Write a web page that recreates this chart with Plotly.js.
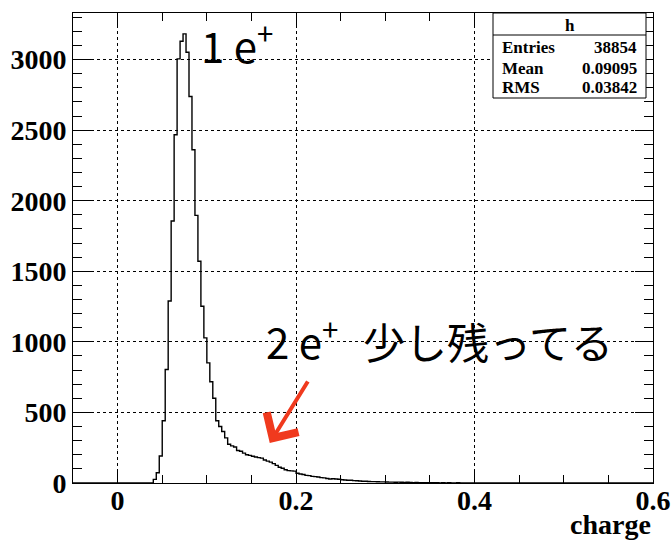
<!DOCTYPE html>
<html>
<head>
<meta charset="utf-8">
<script src="https://cdn.plot.ly/plotly-3.0.1.min.js"></script>
<style>html,body{margin:0;padding:0;background:#fff;}#chart{width:672px;height:544px;}</style>
</head>
<body>
<div id="chart"></div>
<script>
// Histogram definition (ROOT-style: range -0.05..0.6, bin width 1/300)
const hMin = -0.05;
const hMax = 0.6;
const binWidth = 1 / 300;
const firstFilledEdge = 0.04;   // low edge of first non-empty bin
// bin contents, starting at charge = 0.04
const counts = [
  26, 73, 191, 441, 804, 1290, 1856,
  2467, 3005, 3130, 3182, 3052, 2738, 2361,
  1896, 1571, 1252, 1028, 851, 717,
  600, 441, 400, 365, 320, 275, 263, 255, 230,
  225, 212, 200, 196, 190, 184, 180, 176, 163, 155,
  148, 137, 125, 112, 104, 94, 88, 86, 84, 69,
  64, 60, 54, 52, 47, 45, 42, 38, 36, 32, 28, 30, 28, 27, 23,
  21, 20, 19, 17, 16, 14, 12, 12, 11, 10, 10, 9, 8, 8, 7,
  6, 6, 5, 6, 5, 4, 5, 4, 3, 4, 3, 3, 2, 3, 2, 2, 3, 1, 2, 1, 2,
  1, 1, 2, 1, 0, 1, 1, 0, 1, 0, 1, 0, 1, 0, 0, 1, 0, 0, 1, 0, 0, 1, 0, 1
];
const xTickVals = [0, 0.2, 0.4, 0.6];
const xTickText = ["0", "0.2", "0.4", "0.6"];
const statNames = ["Entries", "Mean", "RMS"];
const statValues = ["38854", "0.09095", "0.03842"];
const histName = "h";
const xTitle = "charge";
const label1 = "1 e<sup>+</sup>";
const label2 = "2 e<sup>+</sup>";
const label2jp = "少し残ってる";
const arrowTip = {x: 0.1705, y: 283};

// build step outline over full histogram range
const nBins = Math.round((hMax - hMin) / binWidth);
const offset = Math.round((firstFilledEdge - hMin) / binWidth);
const xs = [], ys = [];
for (let i = 0; i < nBins; i++) {
  const k = i - offset;
  const v = (k >= 0 && k < counts.length) ? counts[k] : 0;
  xs.push(hMin + i * binWidth);
  ys.push(v);
}
xs.push(hMax); ys.push(ys[ys.length - 1]);

const trace = {
  x: xs, y: ys, type: 'scatter', mode: 'lines',
  line: {shape: 'hv', color: '#000', width: 1.4},
  hoverinfo: 'skip', cliponaxis: true
};

const serif = {family: 'Liberation Serif, Times New Roman, serif', size: 28, color: '#000', weight: 'bold'};
const boxFont = {family: 'Liberation Serif, Times New Roman, serif', size: 17, color: '#000', weight: 'bold'};
const bigFont = {family: 'Noto Sans CJK JP, sans-serif', size: 42, color: '#000'};

// plot area in pixels for paper-coordinate helpers
const L = 73, R = 653, T = 13, B = 483;
const px = v => (v - L) / (R - L);
const py = v => (B - v) / (B - T);

const annotations = [
  {xref: 'paper', yref: 'paper', x: 1, y: py(524), xanchor: 'right', yanchor: 'middle',
   text: xTitle, showarrow: false, font: serif},
  {xref: 'paper', yref: 'paper', x: px(569.5), y: py(25), xanchor: 'center', yanchor: 'middle',
   text: histName, showarrow: false, font: boxFont},
  {xref: 'paper', yref: 'paper', x: px(199), y: py(43), xanchor: 'left', yanchor: 'middle',
   text: label1, showarrow: false, font: bigFont},
  {xref: 'paper', yref: 'paper', x: px(264), y: py(339), xanchor: 'left', yanchor: 'middle',
   text: label2, showarrow: false, font: bigFont},
  {xref: 'paper', yref: 'paper', x: px(361), y: py(340), xanchor: 'left', yanchor: 'middle',
   text: label2jp, showarrow: false, font: bigFont},
  {xref: 'x', yref: 'y', x: arrowTip.x, y: arrowTip.y, ax: 39, ay: -63, text: '',
   showarrow: true, arrowhead: 4, arrowsize: 1.8, arrowwidth: 4, arrowcolor: '#f03a1e'}
];
const rowY = [47, 68, 88];
statNames.forEach((n, i) => {
  annotations.push({xref: 'paper', yref: 'paper', x: px(500), y: py(rowY[i]), xanchor: 'left', yanchor: 'middle',
    text: n, showarrow: false, font: boxFont});
  annotations.push({xref: 'paper', yref: 'paper', x: px(639), y: py(rowY[i]), xanchor: 'right', yanchor: 'middle',
    text: statValues[i], showarrow: false, font: boxFont});
});

const layout = {
  width: 672, height: 544,
  margin: {l: L, r: 672 - R, t: T, b: 544 - B},
  paper_bgcolor: '#fff', plot_bgcolor: '#fff',
  showlegend: false,
  xaxis: {
    range: [hMin, hMax], tickmode: 'array', tickvals: xTickVals, ticktext: xTickText,
    ticks: 'inside', ticklen: 14, tickwidth: 1, tickcolor: '#000',
    showline: true, linecolor: '#000', linewidth: 1, mirror: 'allticks',
    showgrid: true, gridcolor: '#000', griddash: 'dot', gridwidth: 1, zeroline: false,
    tickfont: serif, ticklabelstandoff: -8,
    minor: {dtick: 0.05, tick0: 0, ticks: 'inside', ticklen: 8, tickcolor: '#000', showgrid: false}
  },
  yaxis: {
    range: [0, 3330], tick0: 0, dtick: 500, ticks: 'inside', ticklen: 18, tickwidth: 1, tickcolor: '#000',
    showline: true, linecolor: '#000', linewidth: 1, mirror: 'allticks',
    showgrid: true, gridcolor: '#000', griddash: 'dot', gridwidth: 1, zeroline: false,
    tickfont: serif,
    minor: {dtick: 100, tick0: 0, ticks: 'inside', ticklen: 9, tickcolor: '#000', showgrid: false}
  },
  shapes: [
    {type: 'rect', xref: 'paper', yref: 'paper', x0: px(493), x1: px(646), y0: py(98), y1: py(13),
     fillcolor: '#fff', line: {color: '#000', width: 1}, layer: 'above'},
    {type: 'line', xref: 'paper', yref: 'paper', x0: px(493), x1: px(646), y0: py(35), y1: py(35),
     line: {color: '#000', width: 1}, layer: 'above'}
  ],
  annotations: annotations
};

Plotly.newPlot('chart', [trace], layout, {staticPlot: true, displayModeBar: false});
</script>
</body>
</html>
